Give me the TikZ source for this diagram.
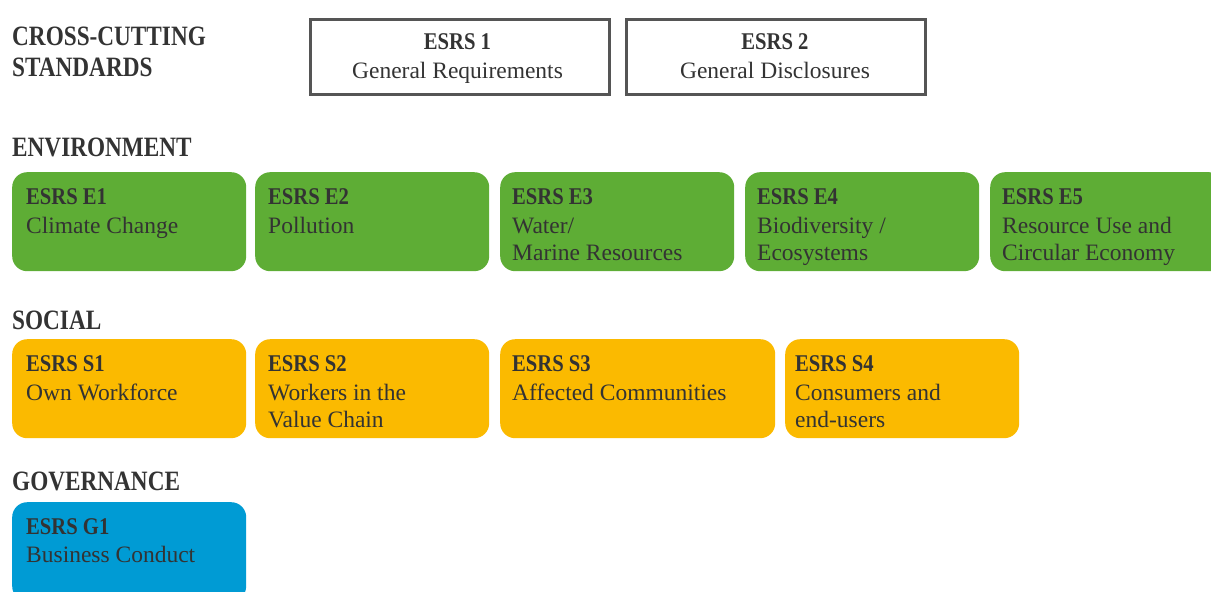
\documentclass[tikz,border=0pt]{standalone}
\usepackage{fontspec}
\setmainfont{Liberation Serif}
\newfontfamily\condserif[FakeStretch=0.86]{Liberation Serif}
\newfontfamily\headserif[FakeStretch=0.83]{Liberation Serif}
\definecolor{esrsgreen}{HTML}{5EAD35}
\definecolor{esrsyellow}{HTML}{FBBA00}
\definecolor{esrsblue}{HTML}{009BD4}
\definecolor{esrstext}{HTML}{333333}
\definecolor{esrsframe}{HTML}{555555}

\begin{document}
\begin{tikzpicture}[x=1pt,y=-1pt]
\tikzstyle{every node} = [inner sep=0, text=esrstext]
\tikzstyle{heading} = [anchor=base west, align=left, font=\headserif\bfseries\fontsize{28}{31}\selectfont]
\tikzstyle{frame} = [anchor=north west, draw=esrsframe, line width=3, minimum width=299, minimum height=75]
\tikzstyle{card} = [anchor=north west, rounded corners=15, minimum width=234, minimum height=99]
\tikzstyle{title} = [anchor=base west, font=\condserif\bfseries\fontsize{24}{29}\selectfont]
\tikzstyle{ftitle} = [anchor=base, font=\condserif\bfseries\fontsize{24}{29}\selectfont]
\tikzstyle{descr} = [anchor=base west, align=left, font=\fontsize{23.5}{27}\selectfont]
\tikzstyle{fdescr} = [anchor=base, font=\fontsize{23.5}{27}\selectfont]
\useasboundingbox (0,0) rectangle (1211,592);
\clip (0,0) rectangle (1211,592);
% headings (multi-line nodes sit on their last baseline)
\node[heading] (cross) at (12,76) {CROSS-CUTTING\\STANDARDS};
\node[heading] (env) at (12,156) {ENVIRONMENT};
\node[heading] (soc) at (12,329) {SOCIAL};
\node[heading] (gov) at (12,490) {GOVERNANCE};
% cross-cutting
\node[frame] (esrs1) at (308.5,17.5) {};
\node[frame] (esrs2) at (625,17.5) {};
\node[ftitle] (esrs1t) at (457.5,49) {ESRS 1};
\node[fdescr] (esrs1d) at (457.5,78) {General Requirements};
\node[ftitle] (esrs2t) at (775,49) {ESRS 2};
\node[fdescr] (esrs2d) at (775,78) {General Disclosures};
% environment
\node[card, fill=esrsgreen] (e1) at (12,172) {};
\node[card, fill=esrsgreen] (e2) at (255,172) {};
\node[card, fill=esrsgreen] (e3) at (500,172) {};
\node[card, fill=esrsgreen] (e4) at (745,172) {};
\node[card, fill=esrsgreen] (e5) at (990,172) {};
\node[title] (e1t) at (26,204) {ESRS E1};
\node[descr] (e1d) at (26,233) {Climate Change};
\node[title] (e2t) at (268,204) {ESRS E2};
\node[descr] (e2d) at (268,233) {Pollution};
\node[title] (e3t) at (512,204) {ESRS E3};
\node[descr] (e3d) at (512,260) {Water/\\Marine Resources};
\node[title] (e4t) at (757,204) {ESRS E4};
\node[descr] (e4d) at (757,260) {Biodiversity /\\Ecosystems};
\node[title] (e5t) at (1002,204) {ESRS E5};
\node[descr] (e5d) at (1002,260) {Resource Use and\\Circular Economy};
% social
\node[card, fill=esrsyellow] (s1) at (12,339) {};
\node[card, fill=esrsyellow] (s2) at (255,339) {};
\node[card, fill=esrsyellow, minimum width=275] (s3) at (500,339) {};
\node[card, fill=esrsyellow] (s4) at (785,339) {};
\node[title] (s1t) at (26,371) {ESRS S1};
\node[descr] (s1d) at (26,400) {Own Workforce};
\node[title] (s2t) at (268,371) {ESRS S2};
\node[descr] (s2d) at (268,427) {Workers in the\\Value Chain};
\node[title] (s3t) at (512,371) {ESRS S3};
\node[descr] (s3d) at (512,400) {Affected Communities};
\node[title] (s4t) at (795,371) {ESRS S4};
\node[descr] (s4d) at (795,427) {Consumers and\\end-users};
% governance
\node[card, fill=esrsblue] (g1) at (12,502) {};
\node[title] (g1t) at (26,534) {ESRS G1};
\node[descr] (g1d) at (26,562) {Business Conduct};
\end{tikzpicture}
\end{document}
